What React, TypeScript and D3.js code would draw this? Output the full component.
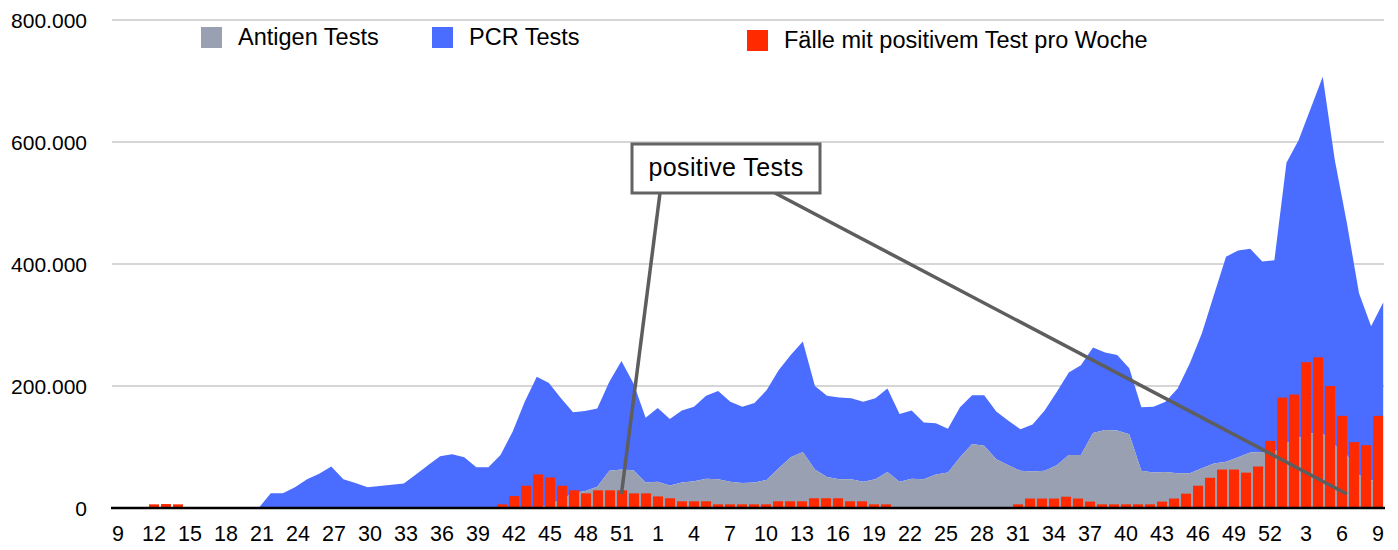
import React from "react";
import * as d3 from "d3";

// ISO weeks 2020-W9 … 2022-W9
const weeks: number[] = [
  9, 10, 11, 12, 13, 14, 15, 16, 17, 18, 19, 20, 21, 22, 23, 24, 25, 26, 27, 28, 29, 30,
  31, 32, 33, 34, 35, 36, 37, 38, 39, 40, 41, 42, 43, 44, 45, 46, 47, 48, 49, 50, 51, 52, 53,
  1, 2, 3, 4, 5, 6, 7, 8, 9, 10, 11, 12, 13, 14, 15, 16, 17, 18, 19, 20, 21, 22, 23, 24, 25, 26,
  27, 28, 29, 30, 31, 32, 33, 34, 35, 36, 37, 38, 39, 40, 41, 42, 43, 44, 45, 46, 47, 48, 49, 50, 51, 52,
  1, 2, 3, 4, 5, 6, 7, 8, 9,
];

const antigenTests: number[] = [
  0, 0, 0, 0, 0, 0, 0, 0, 0, 0, 0, 0, 0, 0, 0, 0, 0, 0, 0, 0, 0, 0,
  0, 0, 0, 0, 0, 0, 0, 0, 0, 0, 0, 0, 0, 0, 5000, 14000, 24000, 28000, 35000, 61000, 63000, 62000, 42000,
  43000, 37000, 42000, 44000, 48000, 47000, 43000, 41000, 42000, 46000, 65000, 83000, 92000, 63000, 51000, 47000, 47000, 43000, 47000, 59000, 43000, 48000, 47000, 55000, 58000, 83000,
  105000, 102000, 80000, 70000, 61000, 60000, 61000, 70000, 87000, 87000, 123000, 128000, 127000, 121000, 61000, 58000, 59000, 57000, 57000, 65000, 73000, 76000, 83000, 91000, 92000, 92000,
  106000, 115000, 122000, 122000, 103000, 87000, 54000, 45000, 46000,
];

const pcrTests: number[] = [
  0, 0, 0, 0, 0, 0, 0, 0, 0, 0, 0, 0, 0, 24000, 24000, 34000, 47000, 56000, 68000, 47000, 41000, 34000,
  36000, 38000, 40000, 55000, 70000, 85000, 88000, 83000, 67000, 67000, 87000, 125000, 174000, 215000, 200000, 166000, 133000, 131000, 128000, 146000, 178000, 142000, 106000,
  121000, 109000, 118000, 122000, 136000, 145000, 131000, 125000, 130000, 147000, 161000, 168000, 181000, 137000, 133000, 134000, 133000, 131000, 133000, 137000, 111000, 112000, 93000, 84000, 72000, 82000,
  80000, 83000, 78000, 73000, 68000, 77000, 99000, 120000, 135000, 147000, 140000, 127000, 124000, 108000, 104000, 108000, 115000, 139000, 180000, 221000, 276000, 336000, 339000, 334000, 312000, 314000,
  460000, 488000, 533000, 585000, 467000, 380000, 298000, 253000, 291000,
];

const positiveCases: number[] = [
  0, 0, 0, 6000, 6500, 6000, 0, 0, 0, 0, 0, 0, 0, 0, 0, 0, 0, 0, 0, 0, 0, 0,
  0, 0, 0, 0, 0, 0, 0, 0, 0, 0, 6000, 19500, 36500, 55000, 50000, 36500, 29000, 24000, 29000, 29000, 29000, 24000, 24000,
  19000, 16000, 11000, 11000, 11000, 6000, 6000, 6000, 6000, 6000, 11000, 11000, 11000, 16000, 16000, 16000, 11000, 11000, 6000, 6000, 0, 0, 0, 0, 0, 0,
  0, 0, 0, 0, 6000, 15500, 15500, 15500, 18500, 15500, 10500, 6000, 6000, 6000, 6000, 6000, 10500, 15500, 23500, 36500, 49500, 63000, 63000, 58000, 68000, 110000,
  181000, 186000, 239000, 247000, 200000, 151000, 108000, 103000, 151000,
];

const yTicks: number[] = [0, 200000, 400000, 600000, 800000];

const legendItems = [
  { label: "Antigen Tests", color: "#98a0b1", x: 201, y: 27 },
  { label: "PCR Tests", color: "#4a6cff", x: 432, y: 27 },
  { label: "Fälle mit positivem Test pro Woche", color: "#ff2a00", x: 747, y: 30 },
];

const annotationText = "positive Tests";
const annotationTargets = [
  { index: 42, value: 23000 },
  { index: 102, value: 23000 },
];

const W = 1398;
const H = 550;
const left = 112;
const right = 1384;
const top = 20;
const bottom = 508;
const FONT = "'Liberation Sans', Arial, Helvetica, sans-serif";

const locale = d3.formatLocale({
  decimal: ",",
  thousands: ".",
  grouping: [3],
  currency: ["", "€"],
});
const fmt = locale.format(",d");

export default function App() {
  const idx = weeks.map((_, i) => i);
  const xBand = d3.scaleBand<number>().domain(idx).range([left, right]).paddingInner(0.17).paddingOuter(0.085);
  const xPoint = d3.scalePoint<number>().domain(idx).range([113.6, 1383.2]);
  const y = d3.scaleLinear().domain([0, 800000]).range([bottom, top]);

  const rows = idx.map((i) => ({ i, antigen: antigenTests[i], pcr: pcrTests[i] }));
  const stack = d3.stack<any>().keys(["antigen", "pcr"]);
  const series = stack(rows);
  const area = d3
    .area<any>()
    .x((d) => xPoint(d.data.i) as number)
    .y0((d) => y(d[0]))
    .y1((d) => y(d[1]));
  const colors = ["#98a0b1", "#4a6cff"];

  const bw = xBand.bandwidth();
  const center = (i: number) => (xBand(i) as number) + bw / 2;

  const box = { x: 632, y: 144, w: 188, h: 49 };
  const starts = [660, 775];

  return (
    <svg width={W} height={H} style={{ position: "absolute", left: 0, top: 0, background: "#fff" }} fontFamily={FONT}>
      {yTicks.filter((t) => t > 0).map((t) => (
        <line key={t} x1={left} x2={right} y1={y(t)} y2={y(t)} stroke="#c8c8c8" strokeWidth={1.5} />
      ))}
      {series.slice().reverse().map((s, k) => (
        <path key={s.key} d={area(s) as string} fill={colors[series.length - 1 - k]} />
      ))}
      {positiveCases.map((v, i) =>
        v > 0 ? (
          <rect key={i} x={xBand(i)} y={y(v)} width={bw} height={bottom - y(v)} fill="#ff2a00" />
        ) : null
      )}
      <line x1={111} x2={1385} y1={bottom} y2={bottom} stroke="#000" strokeWidth={2.6} />
      {yTicks.map((t) => (
        <text key={t} x={87} y={y(t)} dy="0.36em" textAnchor="end" fontSize={21} fill="#000">
          {fmt(t)}
        </text>
      ))}
      {weeks.map((w, i) =>
        i % 3 === 0 ? (
          <text key={i} x={center(i)} y={541} textAnchor="middle" fontSize={21.5} fill="#000">
            {w}
          </text>
        ) : null
      )}
      {legendItems.map((l) => (
        <g key={l.label}>
          <rect x={l.x} y={l.y} width={21} height={21} fill={l.color} />
          <text x={l.x + 37} y={l.y + 18} fontSize={23.5} fill="#000">
            {l.label}
          </text>
        </g>
      ))}
      {annotationTargets.map((a, k) => (
        <line
          key={k}
          x1={starts[k]}
          y1={box.y + box.h}
          x2={xPoint(a.index) as number}
          y2={y(a.value)}
          stroke="#5e5e5e"
          strokeWidth={3.5}
        />
      ))}
      <rect x={box.x} y={box.y} width={box.w} height={box.h} fill="#fff" stroke="#636363" strokeWidth={3} />
      <text x={box.x + box.w / 2} y={box.y + 32} textAnchor="middle" fontSize={25} letterSpacing={0.4} fill="#000">
        {annotationText}
      </text>
    </svg>
  );
}
